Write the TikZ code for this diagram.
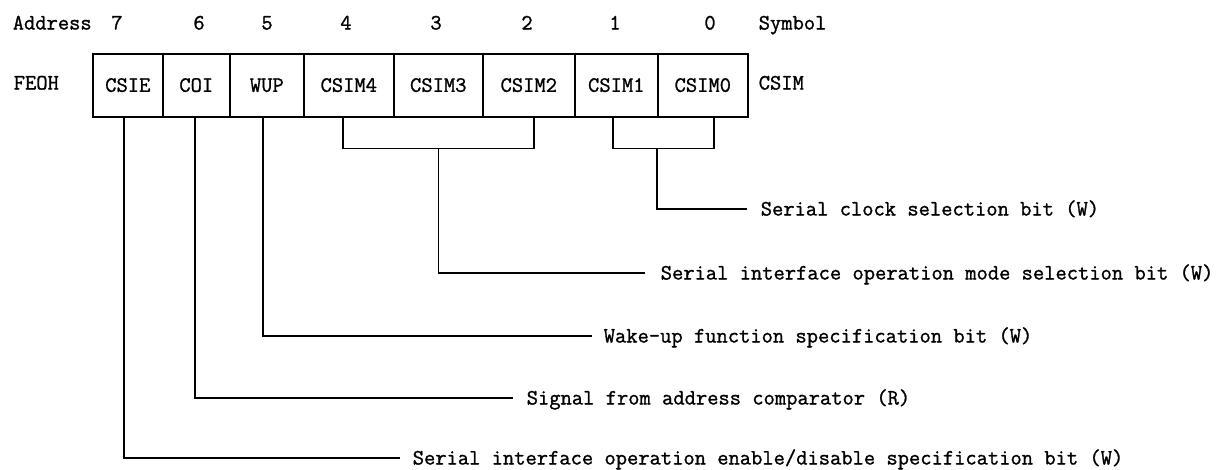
\documentclass[tikz,border=0pt]{standalone}
\usepackage{fontspec}
\newfontfamily\typefont{Latin Modern Mono}[FakeBold=1.2]
\begin{document}
\begin{tikzpicture}[x=1pt,y=-1pt,line width=1.5pt,
  every node/.style={font=\typefont\fontsize{21.9pt}{24pt}\selectfont},
  cell/.style={draw,line width=1.6pt,inner sep=0pt,minimum height=63pt,text height=13pt,text depth=0pt,anchor=north west},
  hdr/.style={anchor=base,inner sep=0pt},
  hdrw/.style={anchor=base west,inner sep=0pt},
  lbl/.style={anchor=base west,inner sep=0pt},
  conn/.style={line width=1.4pt}]
\useasboundingbox (0,0) rectangle (1217,469);
% header row
\node[hdrw] (addr) at (12,29.5) {Address};
\node[hdr] (d7) at (117,29.5) {7};
\node[hdr] (d6) at (199,29.5) {6};
\node[hdr] (d5) at (267,29.5) {5};
\node[hdr] (d4) at (346,29.5) {4};
\node[hdr] (d3) at (436,29.5) {3};
\node[hdr] (d2) at (527,29.5) {2};
\node[hdr] (d1) at (615,29.5) {1};
\node[hdr] (d0) at (710,29.5) {0};
\node[hdrw] (sym) at (758,29.5) {Symbol};
% register row
\node[hdrw] (feoh) at (13,89.5) {FEOH};
\node[cell,minimum width=70pt] (c7) at (92,53) {CSIE};
\node[cell,minimum width=67pt] (c6) at (162,53) {COI};
\node[cell,minimum width=74pt] (c5) at (229,53) {WUP};
\node[cell,minimum width=90pt] (c4) at (303,53) {CSIM4};
\node[cell,minimum width=89pt] (c3) at (393,53) {CSIM3};
\node[cell,minimum width=92pt] (c2) at (482,53) {CSIM2};
\node[cell,minimum width=83pt] (c1) at (574,53) {CSIM1};
\node[cell,minimum width=90pt] (c0) at (657,53) {CSIM0};
\node[hdrw] (csim) at (758,89.5) {CSIM};
% labels
\node[lbl] (l0) at (760,215.5) {Serial clock selection bit (W)};
\node[lbl] (l3) at (660,279.5) {Serial interface operation mode selection bit (W)};
\node[lbl] (l5) at (603,342.5) {Wake-up function specification bit (W)};
\node[lbl] (l6) at (526,404.5) {Signal from address comparator (R)};
\node[lbl] (l7) at (412,464.5) {Serial interface operation enable/disable specification bit (W)};
% connectors
\draw[conn] ([xshift=-4pt]c7.south) |- ([xshift=-12pt,yshift=6.5pt]l7.base west);
\draw[conn] ([xshift=-1.5pt]c6.south) |- ([xshift=-13pt,yshift=6.5pt]l6.base west);
\draw[conn] ([xshift=-4pt]c5.south) |- ([xshift=-11pt,yshift=6.5pt]l5.base west);
\draw[conn] ([xshift=-6pt]c4.south) -- ++(0,31) coordinate (ba) -| ([xshift=5pt]c2.south);
\draw[conn] (ba -| c3.south) |- ([xshift=-15pt,yshift=6.5pt]l3.base west);
\draw[conn] ([xshift=-3.5pt]c1.south) -- ++(0,31) coordinate (bb) -| ([xshift=11pt]c0.south);
\draw[conn] (bb -| c0.south west) |- ([xshift=-13pt,yshift=6.5pt]l0.base west);
\end{tikzpicture}
\end{document}
